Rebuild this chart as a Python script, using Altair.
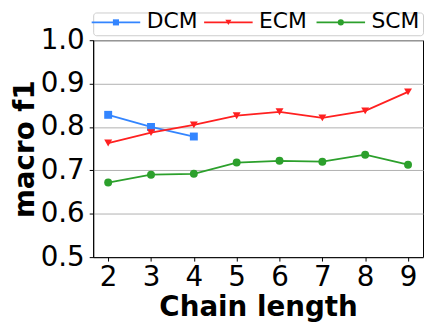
import altair as alt
import pandas as pd

chain = [2, 3, 4, 5, 6, 7, 8, 9]
dcm = [0.828, 0.800, 0.778]
ecm = [0.763, 0.787, 0.805, 0.826, 0.835, 0.821, 0.837, 0.881]
scm = [0.672, 0.690, 0.692, 0.718, 0.722, 0.720, 0.736, 0.713]
series = ["DCM", "ECM", "SCM"]
colors = ["#3385ff", "#ff2020", "#2ca02c"]
shapes = ["square", "triangle-down", "circle"]

rows = []
for name, vals in zip(series, [dcm, ecm, scm]):
    for c, v in zip(chain, vals):
        rows.append({"Chain length": c, "macro f1": v, "model": name})
df = pd.DataFrame(rows)
leg_df = pd.DataFrame({"model": series, "slot": list(range(len(series)))})

FONT = "DejaVu Sans"
color_scale = alt.Scale(domain=series, range=colors)
shape_scale = alt.Scale(domain=series, range=shapes)

base = alt.Chart(df).encode(
    x=alt.X("Chain length:Q",
            scale=alt.Scale(domain=[1.65, 9.35], nice=False, zero=False),
            axis=alt.Axis(values=chain, format="d", grid=False, labelFontSize=28,
                          titleFontSize=28, titleFontWeight="bold", labelFont=FONT,
                          titleFont=FONT, labelColor="black", titleColor="black",
                          tickColor="black", domainColor="black", tickSize=4,
                          labelPadding=3, titlePadding=2, labelFlush=False)),
    y=alt.Y("macro f1:Q",
            scale=alt.Scale(domain=[0.5, 1.0], nice=False, zero=False),
            axis=alt.Axis(values=[0.5, 0.6, 0.7, 0.8, 0.9, 1.0], format=".1f",
                          grid=True, gridColor="#b0b0b0", gridWidth=1,
                          labelFontSize=28, titleFontSize=28, titleFontWeight="bold",
                          labelFont=FONT, titleFont=FONT, labelColor="black",
                          titleColor="black", tickColor="black", domainColor="black",
                          tickSize=4, labelPadding=5, titlePadding=1, labelFlush=False)),
    color=alt.Color("model:N", scale=color_scale, legend=None),
)

lines = base.mark_line(strokeWidth=1.8)
points = base.mark_point(filled=True, size=64, opacity=1).encode(
    shape=alt.Shape("model:N", scale=shape_scale, legend=None)
)
main = alt.layer(lines, points).properties(
    width=333, height=219,
    view=alt.ViewBackground(stroke="black", strokeWidth=1),
)

# legend panel
lx = alt.X("slot:Q", scale=alt.Scale(domain=[0, 2], range=[23, 250], nice=False, zero=False),
           axis=None)
lbase = alt.Chart(leg_df).encode(
    x=lx, y=alt.value(10),
    color=alt.Color("model:N", scale=color_scale, legend=None),
)
leg_line = lbase.mark_point(shape="M-1,0L1,0", size=2401, filled=False,
                            strokeWidth=1.8, opacity=1)
leg_mark = lbase.mark_point(filled=True, size=38, opacity=1).encode(
    shape=alt.Shape("model:N", scale=shape_scale, legend=None)
)
leg_text = alt.Chart(leg_df).mark_text(align="left", baseline="middle", dx=31, fontSize=22,
                                       font=FONT, color="black").encode(
    x=lx, y=alt.value(9), text="model:N")
legend = alt.layer(leg_line, leg_mark, leg_text).properties(
    width=333, height=23,
    view=alt.ViewBackground(stroke="#cccccc", strokeWidth=1, cornerRadius=3),
)

chart = alt.vconcat(legend, main, spacing=5, bounds="flush").properties(
    padding={"left": 2, "top": 0, "right": 0, "bottom": 0}
).resolve_scale(x="independent", color="shared", shape="shared")

chart.save("out.html", embed_options={"renderer": "svg", "actions": False})
